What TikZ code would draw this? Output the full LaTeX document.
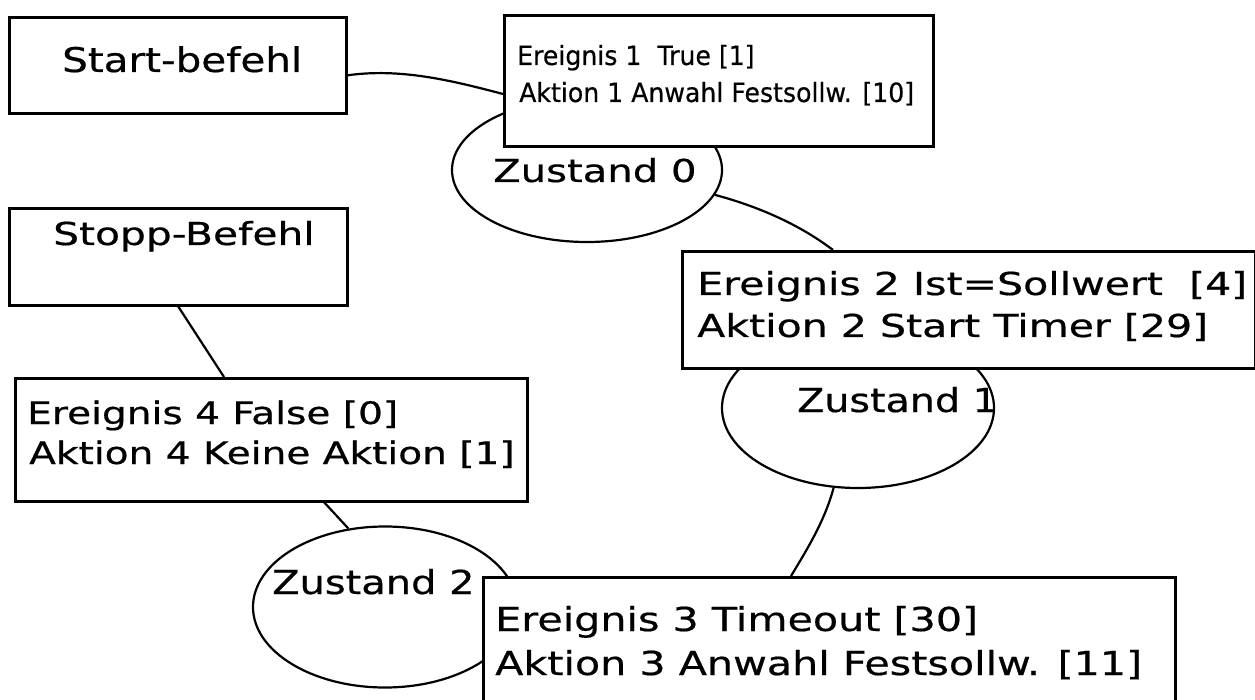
\documentclass[tikz,border=0pt]{standalone}
\usepackage{fontspec}
\setmainfont{DejaVu Sans}[BoldFont=DejaVu Sans, BoldFeatures={FakeBold=0.5}]
\usetikzlibrary{calc,shapes.geometric}
\newcommand{\lbl}[3]{\scalebox{#2}[1]{\fontsize{#1}{#1}\selectfont\bfseries #3}}
\begin{document}
\begin{tikzpicture}[x=1pt,y=-1pt,
  boxshape/.style={draw, line width=2.6pt, fill=white, rectangle, inner sep=0pt, anchor=north west},
  stateshape/.style={draw, line width=2.2pt, ellipse, inner sep=0pt},
  conn/.style={draw, line width=2.2pt},
  txt/.style={anchor=base west, inner sep=0pt}]
\useasboundingbox (0,0) rectangle (1255,700);
\clip (0,0) rectangle (1255,700);
% states
\node (z0) [stateshape, minimum width=270pt, minimum height=144pt] at (587,170) {};
\node (z1) [stateshape, minimum width=272pt, minimum height=160pt] at (858,408) {};
\node (z2) [stateshape, minimum width=264pt, minimum height=161pt] at (385,607) {};
% boxes (placed for naming; drawn after connectors)
\path node (sb) [boxshape, draw=none, fill=none, minimum width=337pt, minimum height=96pt] at (8,16) {};
\path node (sp) [boxshape, draw=none, fill=none, minimum width=338pt, minimum height=97pt] at (8,207) {};
% connectors
\coordinate (sbout) at ($(sb.east)+(0,10)$);
\coordinate (b1in) at (503,94);
\coordinate (b2in) at (833,250);
\coordinate (b3in) at (791,576);
\coordinate (b4in) at (224,377);
\coordinate (b4out) at (322,500);
\draw[conn] (sbout) .. controls (400,68) and (450,80) .. (b1in);
\draw[conn] (z0.-11) .. controls (760,207) and (800,225) .. (b2in);
\draw[conn] (sp.south) -- (b4in);
\draw[conn] (b4out) -- (z2.115);
\draw[conn] (z1.-107) .. controls (825,520) and (808,548) .. (b3in);
% boxes
\node (sb) [boxshape, minimum width=337pt, minimum height=96pt] at (8,16) {};
\node (sp) [boxshape, minimum width=338pt, minimum height=97pt] at (8,207) {};
\node (b1) [boxshape, minimum width=429pt, minimum height=131pt] at (503,14) {};
\node (b2) [boxshape, minimum width=573pt, minimum height=117pt] at (681,250) {};
\node (b4) [boxshape, minimum width=512pt, minimum height=123pt] at (14,377) {};
\node (b3) [boxshape, minimum width=692pt, minimum height=140pt] at (482,576) {};
% texts
\node (tsb) [txt] at (62,72) {\lbl{34}{1.19}{Start-befehl}};
\node (tsp) [txt] at (53,245) {\lbl{31.6}{1.29}{Stopp-Befehl}};
\node (t1a) [txt] at (517,65) {\lbl{26.5}{0.95}{Ereignis 1\space\space True [1]}};
\node (t1b) [txt] at (519,102) {\lbl{26.5}{0.95}{Aktion 1 Anwahl Festsollw. [10]}};
\node (t2a) [txt] at (697,295) {\lbl{31.6}{1.3}{Ereignis 2 Ist=Sollwert\space\space [4]}};
\node (t2b) [txt] at (697,337) {\lbl{31.6}{1.3}{Aktion 2 Start Timer [29]}};
\node (t4a) [txt] at (27,424) {\lbl{31}{1.26}{Ereignis 4 False [0]}};
\node (t4b) [txt] at (29,464) {\lbl{31}{1.26}{Aktion 4 Keine Aktion [1]}};
\node (t3a) [txt] at (495,631) {\lbl{33}{1.25}{Ereignis 3 Timeout [30]}};
\node (t3b) [txt] at (495,675) {\lbl{33}{1.25}{Aktion 3 Anwahl Festsollw. [11]}};
\node (tz0) [txt] at (493,182) {\lbl{31.6}{1.27}{Zustand 0}};
\node (tz1) [txt] at (797,412) {\lbl{33}{1.2}{Zustand 1}};
\node (tz2) [txt] at (272,594) {\lbl{33}{1.21}{Zustand 2}};
\end{tikzpicture}
\end{document}
